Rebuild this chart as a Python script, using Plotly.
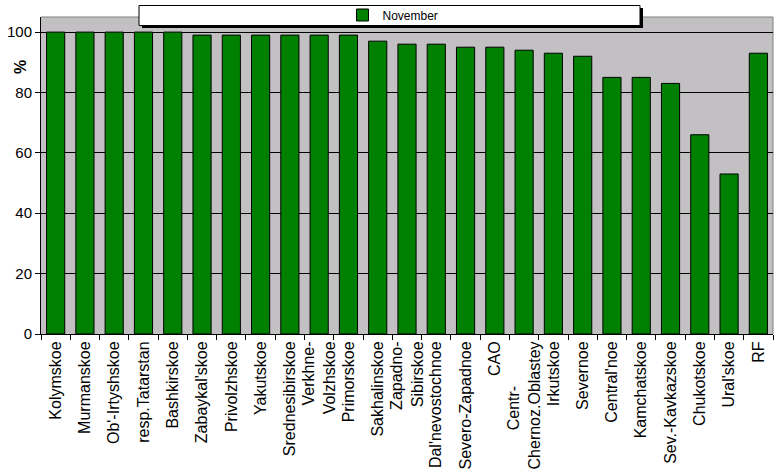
import plotly.graph_objects as go

nb = "&nbsp;" * 10
categories = ["Kolymskoe", "Murmanskoe", "Ob'-Irtyshskoe", "resp.Tatarstan", "Bashkirskoe",
              "Zabaykal'skoe", "Privolzhskoe", "Yakutskoe", "Srednesibirskoe", "Verkhne-<br>Volzhskoe",
              "Primorskoe", "Sakhalinskoe", "Zapadno-<br>Sibirskoe", "Dal'nevostochnoe", "Severo-Zapadnoe",
              "CAO", "Centr-" + nb + "<br>Chernoz.Oblastey", "Irkutskoe", "Severnoe", "Central'noe",
              "Kamchatskoe", "Sev.-Kavkazskoe", "Chukotskoe", "Ural'skoe", "RF"]
november = [100, 100, 100, 100, 100, 99, 99, 99, 99, 99, 99, 97, 96, 96, 95, 95, 94, 93, 92, 85, 85, 83, 66, 53, 93]
y_ticks = [0, 20, 40, 60, 80, 100]

W, H = 778, 476
L, R, T, B = 41, 5, 17, 142
pw, ph = W - L - R, H - T - B


def px(x):
    return (x - L) / pw


def py(y):
    return (H - B - y) / ph


fig = go.Figure()
fig.add_trace(go.Bar(
    x=categories, y=november, name="November",
    marker=dict(color="#008000", line=dict(color="black", width=1)),
    width=0.62,
))

font = "Arial, Liberation Sans, sans-serif"

fig.update_layout(
    width=W, height=H,
    margin=dict(l=L, r=R, t=T, b=B, autoexpand=False),
    paper_bgcolor="white", plot_bgcolor="#C2C0C2",
    font=dict(family=font, size=16, color="black"),
    showlegend=True,
    legend=dict(orientation="h", x=px(393), xanchor="center", y=py(15), yanchor="middle",
                bgcolor="rgba(0,0,0,0)", font=dict(size=12, color="black"),
                itemwidth=30),
    xaxis=dict(type="category", tickangle=-90, showline=True, linecolor="black", linewidth=1,
               ticks="outside", tickson="boundaries", ticklen=5, tickcolor="black",
               showgrid=False, tickfont=dict(size=16)),
    yaxis=dict(range=[0, 105], tickvals=y_ticks, showline=True, linecolor="black", linewidth=1,
               ticks="outside", ticklen=5, tickcolor="black", showgrid=True, gridcolor="black",
               gridwidth=1, zeroline=False, tickfont=dict(size=15)),
    bargap=0.38,
)

# plot-area border on top and right (gray)
fig.add_shape(type="line", xref="paper", yref="paper", x0=0, x1=1, y0=1, y1=1,
              line=dict(color="#808080", width=1), layer="below")
fig.add_shape(type="line", xref="paper", yref="paper", x0=1, x1=1, y0=0, y1=1,
              line=dict(color="#808080", width=1), layer="below")

# legend frame with shadow
fig.add_shape(type="rect", xref="paper", yref="paper", x0=px(142), x1=px(643), y0=py(28), y1=py(8),
              fillcolor="black", line=dict(width=0), layer="above")
fig.add_shape(type="rect", xref="paper", yref="paper", x0=px(139), x1=px(640), y0=py(25.5), y1=py(5.5),
              fillcolor="white", line=dict(color="black", width=1), layer="above")

fig.add_annotation(text="<b>%</b>", xref="paper", yref="paper", x=px(20), y=py(67),
                   showarrow=False, textangle=-90, font=dict(size=16, color="black"),
                   xanchor="center", yanchor="middle")

fig.write_html("out.html")
